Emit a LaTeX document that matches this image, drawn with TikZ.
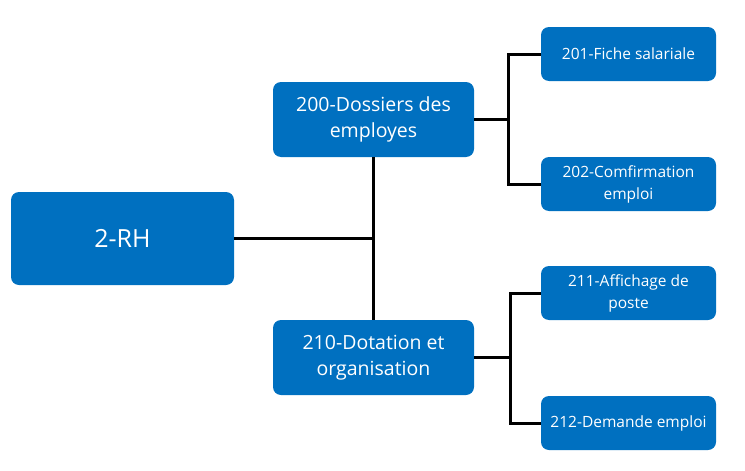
\documentclass[tikz,border=0pt]{standalone}
\usepackage{fontspec}
\setmainfont{Open Sans}
\usepackage{color}
\definecolor{BoxBlue}{HTML}{0070C0}

\begin{document}
\begin{tikzpicture}[x=1pt,y=-1pt,
    boite/.style={draw=none,fill=BoxBlue,text=white,rounded corners=8pt,
      align=center,inner sep=0pt},
    lien/.style={line width=3pt}]
        \useasboundingbox (0,0) rectangle (745,471);
        % main box
        \node[boite,minimum width=223pt,minimum height=93pt,font=\fontsize{25}{29}\selectfont] (rh) at (122.5,238.5) {2-RH};
        % second level
        \node[boite,minimum width=201pt,minimum height=75pt,font=\fontsize{19.5}{26}\selectfont] (d200) at (373.5,119.5) {200-Dossiers des\\employes};
        \node[boite,minimum width=201pt,minimum height=75pt,font=\fontsize{19.5}{26}\selectfont] (d210) at (373.5,357.5) {210-Dotation et\\organisation};
        % third level
        \node[boite,minimum width=175pt,minimum height=54pt,font=\fontsize{15.5}{22}\selectfont] (f201) at (628.5,54) {201-Fiche salariale};
        \node[boite,minimum width=175pt,minimum height=54pt,font=\fontsize{15.5}{22}\selectfont] (f202) at (628.5,184) {202-Comfirmation\\emploi};
        \node[boite,minimum width=175pt,minimum height=54pt,font=\fontsize{15.5}{22}\selectfont] (f211) at (628.5,293) {211-Affichage de\\poste};
        \node[boite,minimum width=175pt,minimum height=54pt,font=\fontsize{15.5}{22}\selectfont] (f212) at (628.5,423) {212-Demande emploi};
        % connectors
        \coordinate (j0) at (374,238.5);
        \coordinate (j1) at (508,119.5);
        \coordinate (j2) at (510,357.5);
        \draw[lien] (rh.east) -- (j0);
        \draw[lien] (d200.south) -- (d210.north);
        \draw[lien] (d200.east) -- (j1);
        \draw[lien] (f201.west) -| (j1) |- (f202.west);
        \draw[lien] (d210.east) -- (j2);
        \draw[lien] (f211.west) -| (j2) |- (f212.west);
      \end{tikzpicture}
\end{document}
